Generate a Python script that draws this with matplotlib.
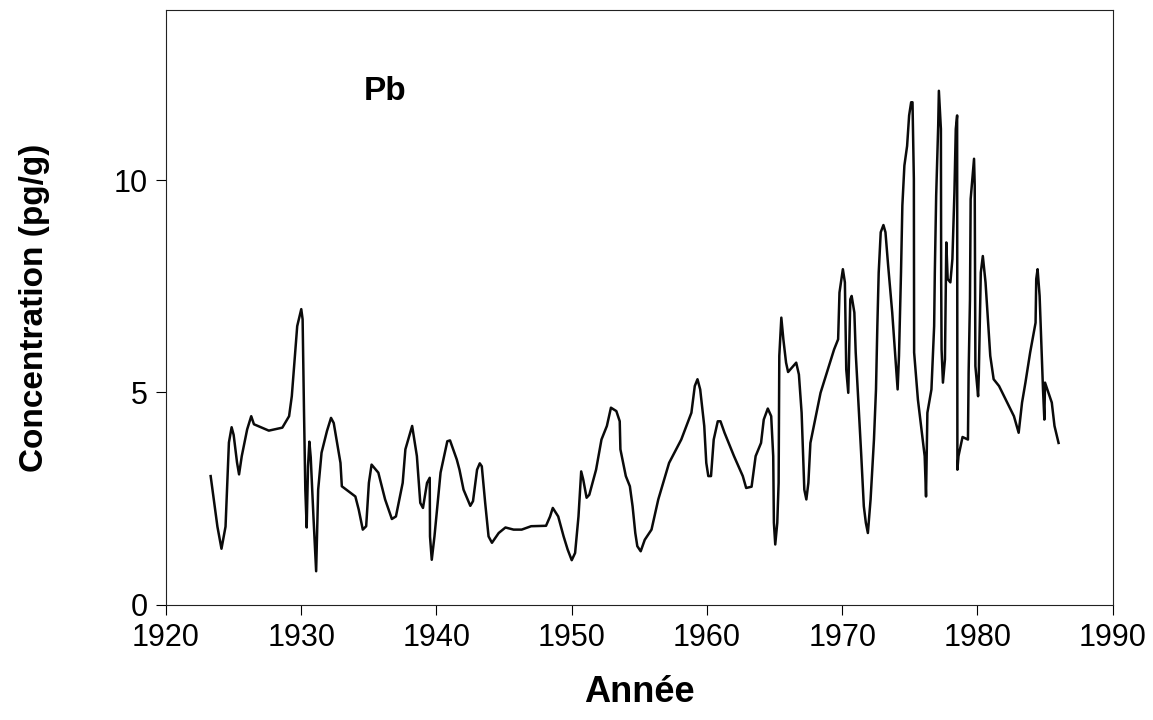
import matplotlib
matplotlib.use('Agg')
import matplotlib.pyplot as plt

plt.rcParams['font.family'] = ['Liberation Sans', 'DejaVu Sans']

# Pb concentration record (pg/g)
annee = [
    1923.3, 1923.5, 1923.8, 1924.1, 1924.4, 1924.65, 1924.85, 1925.0, 1925.25, 1925.4,
    1925.6, 1926.0, 1926.3, 1926.5, 1927.6, 1928.6, 1929.1, 1929.3, 1929.7, 1930.0,
    1930.1, 1930.2, 1930.3, 1930.4, 1930.5, 1930.6, 1930.7, 1930.9, 1931.1, 1931.25,
    1931.5, 1931.9, 1932.2, 1932.4, 1932.9, 1933.0, 1933.5, 1934.0, 1934.25, 1934.55,
    1934.8, 1935.0, 1935.2, 1935.7, 1936.2, 1936.7, 1937.0, 1937.5, 1937.7, 1938.2,
    1938.55, 1938.8, 1939.0, 1939.3, 1939.5, 1939.52, 1939.65, 1939.85, 1940.3, 1940.8,
    1941.0, 1941.5, 1941.7, 1942.0, 1942.5, 1942.7, 1943.0, 1943.2, 1943.35, 1943.6,
    1943.85, 1944.1, 1944.6, 1945.1, 1945.7, 1946.3, 1947.0, 1948.1, 1948.4, 1948.6,
    1949.0, 1949.4, 1949.7, 1950.0, 1950.25, 1950.5, 1950.7, 1950.85, 1951.1, 1951.3,
    1951.8, 1952.2, 1952.6, 1952.9, 1953.3, 1953.55, 1953.6, 1954.0, 1954.3, 1954.5,
    1954.7, 1954.85, 1955.1, 1955.4, 1955.9, 1956.4, 1957.2, 1958.1, 1958.85, 1959.1,
    1959.3, 1959.5, 1959.8, 1959.95, 1960.1, 1960.3, 1960.5, 1960.8, 1961.0, 1961.3,
    1962.0, 1962.65, 1962.9, 1963.3, 1963.6, 1964.0, 1964.2, 1964.5, 1964.75, 1964.9,
    1964.95, 1965.05, 1965.2, 1965.3, 1965.35, 1965.5, 1965.65, 1965.85, 1966.0, 1966.6,
    1966.8, 1967.0, 1967.2, 1967.35, 1967.5, 1967.65, 1968.4, 1969.4, 1969.7, 1969.8,
    1970.05, 1970.2, 1970.3, 1970.45, 1970.6, 1970.7, 1970.9, 1971.0, 1971.4, 1971.6,
    1971.75, 1971.9, 1972.1, 1972.35, 1972.5, 1972.6, 1972.7, 1972.85, 1973.05, 1973.2,
    1973.4, 1973.7, 1974.0, 1974.1, 1974.2, 1974.3, 1974.35, 1974.45, 1974.6, 1974.8,
    1974.95, 1975.1, 1975.2, 1975.3, 1975.32, 1975.6, 1975.95, 1976.1, 1976.2, 1976.3,
    1976.6, 1976.8, 1976.85, 1976.95, 1977.1, 1977.15, 1977.3, 1977.32, 1977.35, 1977.45,
    1977.6, 1977.7, 1977.8, 1978.0, 1978.15, 1978.3, 1978.4, 1978.5, 1978.52, 1978.6,
    1978.9, 1979.3, 1979.35, 1979.45, 1979.5, 1979.75, 1979.8, 1979.85, 1980.05, 1980.1,
    1980.25, 1980.4, 1980.6, 1980.95, 1981.2, 1981.6, 1982.2, 1982.7, 1983.05, 1983.3,
    1983.55, 1983.9, 1984.3, 1984.35, 1984.45, 1984.6, 1984.85, 1984.95, 1985.0, 1985.5,
    1985.7, 1986.0,
]
pb = [
    3.03, 2.55, 1.84, 1.32, 1.84, 3.82, 4.18, 4.00, 3.35, 3.07,
    3.50, 4.13, 4.44, 4.25, 4.10, 4.17, 4.44, 4.91, 6.56, 6.96,
    6.72, 4.60, 2.71, 1.82, 3.26, 3.84, 3.47, 2.08, 0.79, 2.71,
    3.58, 4.09, 4.40, 4.28, 3.34, 2.79, 2.67, 2.55, 2.24, 1.77,
    1.85, 2.87, 3.30, 3.11, 2.48, 2.02, 2.08, 2.87, 3.66, 4.21,
    3.50, 2.40, 2.28, 2.87, 2.99, 1.61, 1.06, 1.61, 3.11, 3.85,
    3.87, 3.42, 3.18, 2.71, 2.33, 2.44, 3.18, 3.33, 3.26, 2.40,
    1.61, 1.46, 1.69, 1.82, 1.77, 1.77, 1.85, 1.86, 2.08, 2.28,
    2.08, 1.61, 1.30, 1.05, 1.22, 2.08, 3.14, 2.95, 2.52, 2.59,
    3.18, 3.89, 4.21, 4.64, 4.56, 4.32, 3.66, 3.03, 2.79, 2.32,
    1.69, 1.38, 1.26, 1.53, 1.77, 2.48, 3.34, 3.89, 4.52, 5.15,
    5.31, 5.07, 4.21, 3.34, 3.03, 3.03, 3.89, 4.32, 4.32, 4.05,
    3.50, 3.03, 2.75, 2.78, 3.50, 3.81, 4.36, 4.62, 4.44, 3.50,
    1.93, 1.42, 1.93, 2.87, 5.86, 6.76, 6.25, 5.70, 5.48, 5.70,
    5.42, 4.52, 2.71, 2.48, 2.87, 3.81, 4.99, 6.01, 6.25, 7.35,
    7.90, 7.59, 5.54, 4.99, 7.19, 7.27, 6.88, 5.94, 3.58, 2.32,
    1.93, 1.69, 2.48, 3.89, 5.07, 6.56, 7.82, 8.77, 8.94, 8.77,
    7.98, 6.88, 5.54, 5.07, 5.86, 7.19, 7.82, 9.40, 10.34, 10.80,
    11.52, 11.83, 11.83, 10.02, 5.94, 4.83, 3.89, 3.50, 2.55, 4.52,
    5.07, 6.56, 7.82, 9.63, 11.28, 12.10, 11.20, 7.67, 6.01, 5.23,
    5.78, 8.53, 7.67, 7.59, 8.14, 9.71, 11.20, 11.52, 3.18, 3.50,
    3.95, 3.89, 5.46, 7.19, 9.55, 10.50, 9.87, 5.62, 4.91, 5.38,
    7.82, 8.21, 7.59, 5.86, 5.31, 5.15, 4.76, 4.44, 4.05, 4.76,
    5.23, 5.94, 6.64, 7.67, 7.90, 7.27, 5.07, 4.36, 5.23, 4.76,
    4.21, 3.81,
]

x_ticks = [1920, 1930, 1940, 1950, 1960, 1970, 1980, 1990]
y_ticks = [0, 5, 10]

fig = plt.figure(figsize=(11.53, 7.2), dpi=100)
ax = fig.add_axes([0.144, 0.16, 0.821, 0.826])

ax.plot(annee, pb, color='#0a0a0a', linewidth=1.8, solid_joinstyle='round')

ax.set_xlim(1920, 1990)
ax.set_ylim(0, 14)
ax.set_xticks(x_ticks)
ax.set_yticks(y_ticks)
ax.tick_params(axis='both', direction='out', length=7, width=0.8, labelsize=22, pad=6)

for s in ax.spines.values():
    s.set_linewidth(0.8)
    s.set_color('#222222')

ax.set_xlabel('Année', fontsize=26, fontweight='bold', labelpad=16)
ax.set_ylabel('Concentration (pg/g)', fontsize=24, fontweight='bold', labelpad=46)

ax.text(1936.2, 12.08, 'Pb', ha='center', va='center', fontsize=24, fontweight='bold')

fig.savefig('out.png', dpi=100)
